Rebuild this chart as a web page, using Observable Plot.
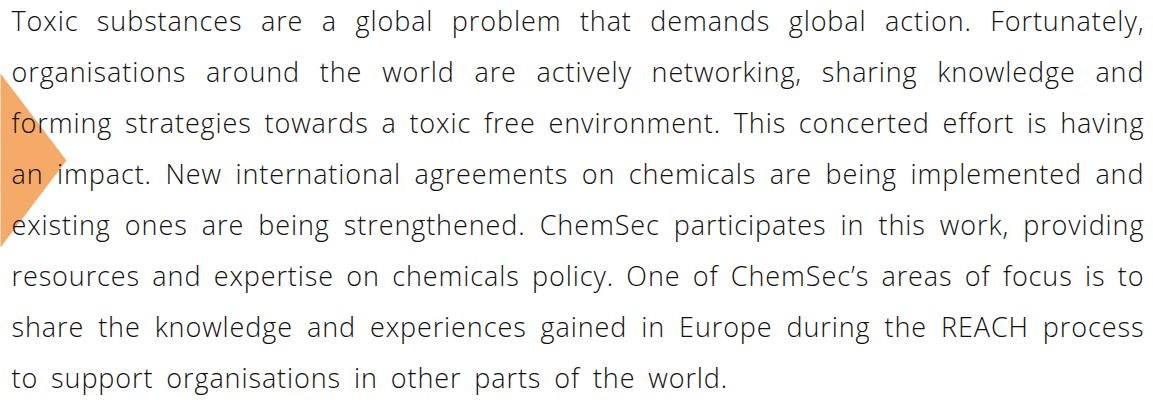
<!DOCTYPE html>
<html>
<head>
<meta charset="utf-8">
<script src="https://cdn.jsdelivr.net/npm/d3@7"></script>
<script src="https://cdn.jsdelivr.net/npm/@observablehq/plot@0.6"></script>
<style>
  html, body { margin: 0; padding: 0; background: #ffffff; }
  #chart svg { display: block; }
</style>
</head>
<body>
<div id="chart"></div>
<script>
// ---- content ----
const lines = [
  "Toxic substances are a global problem that demands global action. Fortunately,",
  "organisations around the world are actively networking, sharing knowledge and",
  "forming strategies towards a toxic free environment. This concerted effort is having",
  "an impact. New international agreements on chemicals are being implemented and",
  "existing ones are being strengthened. ChemSec participates in this work, providing",
  "resources and expertise on chemicals policy. One of ChemSec\u2019s areas of focus is to",
  "share the knowledge and experiences gained in Europe during the REACH process",
  "to support organisations in other parts of the world."
];
const justified = [true, true, true, true, true, true, true, false];

// ---- layout (not data) ----
const W = 1153, H = 400;
const textLeft = 11, textRight = 1143;
const firstBaseline = 30.5, lineStep = 51;
const fontSize = 27, letterSpacing = 0.9, lastLineWordSpacing = 5;
const arrowTop = 73, arrowTip = 160, arrowBottom = 247, arrowWidth = 66;
const arrow = [
  {x: 0, y: arrowTop},
  {x: arrowWidth, y: arrowTip},
  {x: 0, y: arrowBottom}
];

const rows = lines.map((t, i) => ({text: t, row: i, justify: justified[i]}));

const chart = Plot.plot({
  width: W,
  height: H,
  margin: 0,
  x: {domain: [0, W], range: [0, W], axis: null},
  y: {domain: [0, H], range: [0, H], axis: null},
  style: {background: "#ffffff"},
  marks: [
    Plot.line(arrow, {x: "x", y: "y", fill: "#f5aa6a", stroke: "none", curve: "linear-closed"}),
    Plot.text(rows, {
      x: () => textLeft,
      y: d => firstBaseline + d.row * lineStep,
      text: "text",
      textAnchor: "start",
      lineAnchor: "bottom",
      fontSize: fontSize,
      fontFamily: "Open Sans",
      fontWeight: 300,
      fill: "#111111"
    })
  ]
});
document.getElementById("chart").appendChild(chart);

// justify lines by adjusting word spacing
const texts = chart.querySelectorAll("g[aria-label='text'] text");
texts.forEach((el, i) => {
  el.style.letterSpacing = letterSpacing + "px";
  if (!rows[i]) return;
  if (!rows[i].justify) {
    el.style.wordSpacing = lastLineWordSpacing + "px";
    return;
  }
  el.style.wordSpacing = "0px";
  const w = el.getComputedTextLength() - letterSpacing;
  const spaces = (rows[i].text.match(/ /g) || []).length;
  if (spaces > 0) {
    const extra = (textRight - textLeft - w) / spaces;
    el.style.wordSpacing = extra.toFixed(2) + "px";
  }
});
</script>
</body>
</html>
